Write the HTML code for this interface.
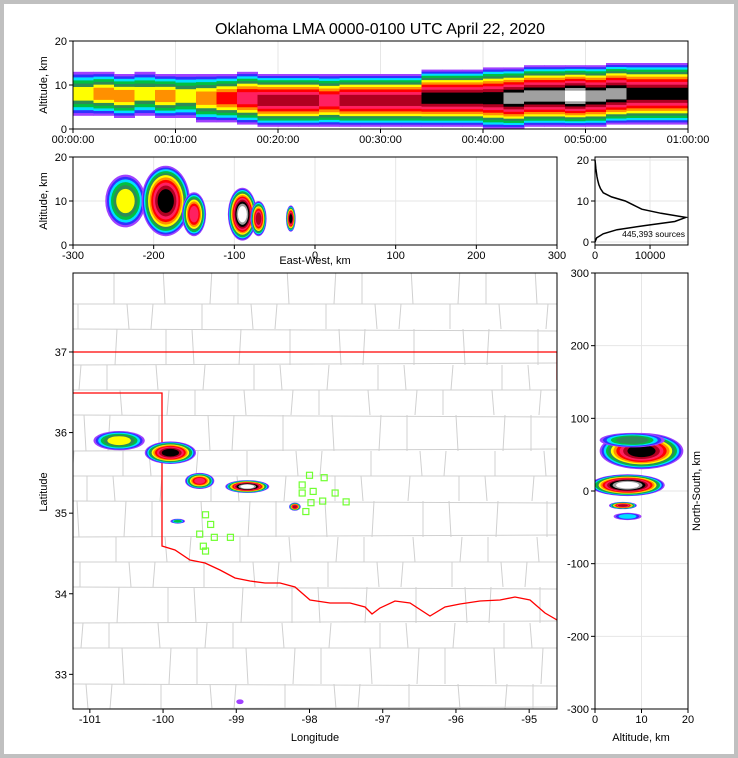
<!DOCTYPE html>
<html><head><meta charset="utf-8">
<style>
html,body{margin:0;padding:0;background:#c0c0c0}
#wrap{position:absolute;left:4px;top:4px;width:730px;height:750px;background:#fff}
svg{position:absolute;left:0;top:0}
text{font-family:"Liberation Sans",sans-serif;font-size:11px;fill:#000}
</style></head>
<body>
<div id="wrap"></div>
<svg id="s" width="738" height="758"></svg>
<script>
// ---- data ----
const palette=['#a040ff','#3030ff','#00e0ff','#00c040','#2e8b57','#ffff00','#ff9000','#ff0000','#ff2060','#b00020','#000000','#a0a0a0','#ffffff'];
// time-height: 2-minute bins
const thCenter=[8,8,7.5,8,7.5,7.5,7,7,7,6.5,6.5,6.5,6.5,6.5,6.5,6.5,6.5,7,7,7,7,7,7.5,7.5,7.5,7.5,8,8,8,8];
const thHalf=[5,5,5,5,5,5,5.5,5.5,6,6,6,6,6,6,6,6,6,6.5,6.5,6.5,7,7,7,7,7,7,7,7,7,7];
const thLevel=[5,6,6,5,6,5,6,7,8,9,9,9,8,9,9,9,9,10,10,10,10,11,11,11,12,11,11,10,10,10];
// east-west vs altitude clusters
const ewX=[-235,-185,-150,-90,-70,-30];
const ewAlt=[10,10,7,7,6,6];
const ewRx=[25,30,15,18,10,6];
const ewRy=[6,8,5,6,4,3];
const ewLvl=[5,10,8,12,9,10];
// map clusters
const mapLon=[-100.6,-99.9,-99.5,-98.85,-98.2,-99.8,-98.95];
const mapLat=[35.9,35.75,35.4,35.33,35.08,34.9,32.66];
const mapRx=[0.35,0.35,0.2,0.3,0.08,0.1,0.05];
const mapRy=[0.12,0.14,0.1,0.08,0.05,0.03,0.03];
const mapLvl=[5,10,8,12,9,3,0];
// north-south vs altitude clusters
const nsAlt=[10,7,6,7,8];
const nsY=[55,8,-20,-35,70];
const nsRx=[9,8,3,3,7];
const nsRy=[25,15,5,5,10];
const nsLvl=[10,12,9,2,4];
// histogram counts by altitude km (0..20)
const histAlt=[0,1,2,3,4,5,6,7,8,9,10,11,12,13,14,15,16,17,18,19,20];
const histCnt=[0,300,1500,4000,9000,14500,16500,12000,8500,7000,5500,3000,1500,1000,700,500,350,250,150,80,0];
// flash markers
const flashLon=[-98,-98.1,-97.95,-97.8,-97.65,-97.5,-98.1,-97.98,-97.82,-98.05,-99.42,-99.35,-99.5,-99.3,-99.45,-99.42,-99.08];
const flashLat=[35.47,35.35,35.27,35.44,35.25,35.14,35.25,35.13,35.15,35.02,34.98,34.86,34.74,34.7,34.59,34.53,34.7];
const timeTicks=['00:00:00','00:10:00','00:20:00','00:30:00','00:40:00','00:50:00','01:00:00'];

const S=document.getElementById('s');const NS='http://www.w3.org/2000/svg';
function el(t,a,p){const e=document.createElementNS(NS,t);for(const k in a)e.setAttribute(k,a[k]);(p||S).appendChild(e);return e;}
function txt(x,y,s,anchor,size,rot){const e=el('text',{x:x,y:y,'text-anchor':anchor||'middle'});if(size)e.style.fontSize=size+'px';if(rot)e.setAttribute('transform','rotate('+rot+' '+x+' '+y+')');e.textContent=s;return e;}
function lin(d0,d1,r0,r1){return v=>r0+(v-d0)*(r1-r0)/(d1-d0);}
function clip(id,x,y,w,h){const c=el('clipPath',{id:id});el('rect',{x:x,y:y,width:w,height:h},c);}
function grid(x0,y0,x1,y1,xs,ys){xs.forEach(x=>el('line',{x1:x,y1:y0,x2:x,y2:y1,stroke:'#e6e6e6'}));ys.forEach(y=>el('line',{x1:x0,y1:y,x2:x1,y2:y,stroke:'#e6e6e6'}));}
function frame(x,y,w,h,name){const r=el('rect',{x:x,y:y,width:w,height:h,fill:'none',stroke:'#000'});}
function ellipses(g,cx,cy,rx,ry,lvl){for(let l=0;l<=lvl;l++){const f=Math.pow(1-l/(lvl+1.6),0.55);el('ellipse',{cx:cx,cy:cy,rx:Math.max(rx*f,1),ry:Math.max(ry*f,1),fill:palette[l]},g);}}

const t=txt(380,34,'Oklahoma LMA 0000-0100 UTC April 22, 2020','middle',16);


// ---- panel 1: time-height ----
const p1x=lin(0,60,73,688),p1y=lin(0,20,129,41);
grid(73,41,688,129,[0,10,20,30,40,50,60].map(p1x),[0,10,20].map(p1y));
clip('c1',73,41,615,88);
const g1=el('g',{'clip-path':'url(#c1)'});
thCenter.forEach((c,i)=>{const x0=p1x(i*2),x1=p1x(i*2+2);const L=thLevel[i];for(let l=0;l<=L;l++){const h=thHalf[i]*Math.pow(1-l/(L+1.5),0.8);const r=el('rect',{x:x0,y:p1y(c+h),width:x1-x0+0.5,height:p1y(c-h)-p1y(c+h),fill:palette[l]},g1);}});
frame(73,41,615,88,'time-height-panel');
timeTicks.forEach((s,i)=>{const x=p1x(i*10);el('line',{x1:x,y1:129,x2:x,y2:133,stroke:'#000'});txt(x,143,s);});
[0,10,20].forEach(v=>{const y=p1y(v);el('line',{x1:69,y1:y,x2:73,y2:y,stroke:'#000'});txt(67,y+4,v,'end');});
txt(47,85,'Altitude, km','middle',11,-90);

// ---- panel 2: EW-alt ----
const p2x=lin(-300,300,73,557),p2y=lin(0,20,245,157);
grid(73,157,557,245,[-300,-200,-100,0,100,200,300].map(p2x),[0,10,20].map(p2y));
clip('c2',73,157,484,88);
const g2=el('g',{'clip-path':'url(#c2)'});
ewX.forEach((v,i)=>{const g=el('g',{},g2);ellipses(g,p2x(v),p2y(ewAlt[i]),p2x(v+ewRx[i])-p2x(v),p2y(0)-p2y(ewRy[i]),ewLvl[i]);});
frame(73,157,484,88,'east-west-panel');
[-300,-200,-100,0,100,200,300].forEach(v=>{const x=p2x(v);el('line',{x1:x,y1:245,x2:x,y2:249,stroke:'#000'});txt(x,259,v);});
[0,10,20].forEach(v=>{const y=p2y(v);el('line',{x1:69,y1:y,x2:73,y2:y,stroke:'#000'});txt(67,y+4,v,'end');});
txt(47,201,'Altitude, km','middle',11,-90);
txt(315,264,'East-West, km');

// ---- panel 3: histogram ----
const p3x=lin(0,16900,595,688),p3y=lin(0,20,242,160);
grid(595,157,688,245,[0,10000].map(p3x),[0,10,20].map(p3y));
let d='';histAlt.forEach((a,i)=>{d+=(i?'L':'M')+p3x(histCnt[i])+' '+p3y(a);});
const hp=el('path',{d:d,fill:'none',stroke:'#000','stroke-width':1.5});
frame(595,157,93,88,'histogram-panel');
txt(685,237,'445,393 sources','end',8.5);
[0,10000].forEach(v=>{const x=p3x(v);el('line',{x1:x,y1:245,x2:x,y2:249,stroke:'#000'});txt(x,259,v);});
[0,10,20].forEach(v=>{const y=p3y(v);el('line',{x1:591,y1:y,x2:595,y2:y,stroke:'#000'});txt(589,y+4,v,'end');});

// ---- map ----
const mx=lin(-101.23,-94.62,73,557),my=lin(32.57,37.98,709,273);
clip('c4',73,273,484,436);
const gm=el('g',{'clip-path':'url(#c4)'});
// county lines (background)
const rowY=[];for(let r=0;r<16;r++)rowY.push(273+r*29+((r*7)%11)-5);
rowY.forEach((y,r)=>{el('line',{x1:73,y1:y,x2:557,y2:y+((r%3)-1)*2,stroke:'#d0d0d0'},gm);
 const y2=r<15?rowY[r+1]:720;
 for(let c=0;c<12;c++){const x=73+c*42+((r*13+c*7)%23)-8;el('line',{x1:x,y1:y,x2:x+((c+r)%3-1)*2,y2:y2,stroke:'#d0d0d0'},gm);}});
// state boundary
const ob=el('path',{d:'M73 352 L557 352 L557 380 M73 393 L162 393 L162 546 L175 550 L190 560 L205 563 L220 570 L235 578 L250 581 L265 583 L280 583 L295 587 L310 600 L330 603 L350 603 L365 607 L372 614 L380 608 L395 601 L410 603 L430 616 L445 607 L460 604 L480 601 L500 600 L515 597 L530 600 L545 613 L557 620',fill:'none',stroke:'#ff0000','stroke-width':1.3},gm);

mapLon.forEach((v,i)=>{const g=el('g',{},gm);ellipses(g,mx(v),my(mapLat[i]),mx(v+mapRx[i])-mx(v),my(0)-my(mapRy[i]),mapLvl[i]);});
flashLon.forEach((v,i)=>{const r=el('rect',{x:mx(v)-3,y:my(flashLat[i])-3,width:6,height:6,fill:'none',stroke:'#70ff30','stroke-width':1.2},gm);});
frame(73,273,484,436,'map-panel');
[-101,-100,-99,-98,-97,-96,-95].forEach(v=>{const x=mx(v);el('line',{x1:x,y1:709,x2:x,y2:713,stroke:'#000'});txt(x,723,v);});
[33,34,35,36,37].forEach(v=>{const y=my(v);el('line',{x1:69,y1:y,x2:73,y2:y,stroke:'#000'});txt(67,y+4,v,'end');});
txt(315,741,'Longitude');txt(47,492,'Latitude','middle',11,-90);

// ---- NS-alt panel ----
const nx=lin(0,20,595,688),ny=lin(-300,300,709,273);
grid(595,273,688,709,[0,10,20].map(nx),[-300,-200,-100,0,100,200,300].map(ny));
clip('c5',595,273,93,436);
const g5=el('g',{'clip-path':'url(#c5)'});
nsAlt.forEach((v,i)=>{const g=el('g',{},g5);ellipses(g,nx(v),ny(nsY[i]),nx(nsRx[i])-nx(0),ny(0)-ny(nsRy[i]),nsLvl[i]);});
frame(595,273,93,436,'north-south-panel');
[0,10,20].forEach(v=>{const x=nx(v);el('line',{x1:x,y1:709,x2:x,y2:713,stroke:'#000'});txt(x,723,v);});
[-300,-200,-100,0,100,200,300].forEach(v=>{const y=ny(v);el('line',{x1:591,y1:y,x2:595,y2:y,stroke:'#000'});txt(589,y+4,v,'end');});
txt(641,741,'Altitude, km');txt(700,491,'North-South, km','middle',11,-90);
</script>
</body></html>
